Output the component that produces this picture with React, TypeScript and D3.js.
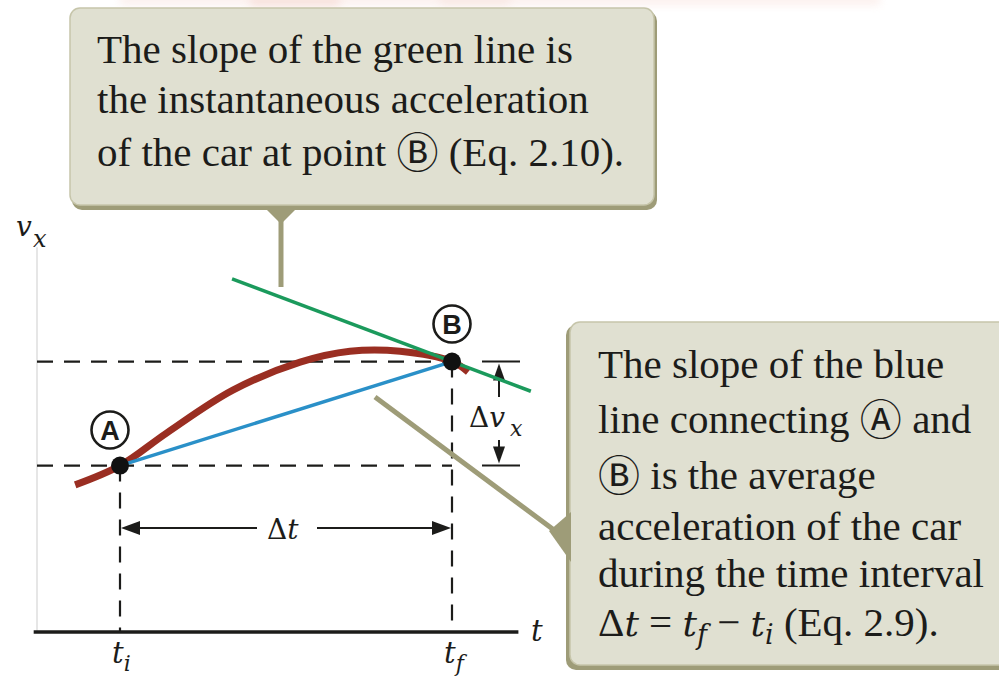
import React from "react";
import * as d3 from "d3";

// Velocity–time curve of the car (t in s, v_x in m/s)
const curveT = [0.92, 2, 3.13, 4.72, 6.34, 7.54, 8.75, 10, 10.39];
const curveV = [2.83, 3.2, 3.83, 4.65, 5.19, 5.4, 5.4, 5.2, 5.0];

// Marked points A and B
const pointNames = ["A", "B"];
const pointT = [2, 10];
const pointV = [3.2, 5.2];

// Tangent at B (instantaneous acceleration)
const tangentT = [4.7, 11.9];
const tangentSlope = -0.3;

// Axis extents and tick labels
const tAxis = [-0.08, 11.6];
const vAxis = [0, 7.4];
const tickSubs = ["i", "f"];

const W = 999;
const H = 681;

const x = d3.scaleLinear().domain([0, 11.6]).range([37, 518.4]);
const y = d3.scaleLinear().domain([0, 8]).range([632, 216]);

const serif = "'Liberation Serif', 'Times New Roman', serif";
const math = "'DejaVu Serif', 'Liberation Serif', serif";
const sans = "'Liberation Sans', Arial, sans-serif";
const circ = "'DejaVu Sans', 'Noto Sans CJK SC', sans-serif";
const ink = "#1c1c1a";
const boxFill = "#e0e0d1";
const boxEdge = "#c6c5aa";
const olive = "#9e9c78";

function arrowHead(tipX: number, tipY: number, dx: number, dy: number, len = 15, half = 6) {
  const bx = tipX - dx * len;
  const by = tipY - dy * len;
  const px = -dy * half;
  const py = dx * half;
  return `M${tipX},${tipY}L${bx + px},${by + py}L${bx - px},${by - py}Z`;
}

function Circled({ ch }: { ch: string }) {
  return (
    <tspan fontFamily={circ} fontSize={42} dy={2}>
      {ch}
    </tspan>
  );
}

export default function App() {
  const line = d3
    .line<number>()
    .x((_, i) => x(curveT[i]))
    .y((v) => y(v))
    .curve(d3.curveCatmullRom.alpha(0.5));

  const [tA, tB] = pointT;
  const [vA, vB] = pointV;
  const tanY = (t: number) => vB + tangentSlope * (t - tB);

  // Δv bracket
  const dvX = 499;
  const tickX0 = 482;
  const tickX1 = 520;
  const dtY = 528;

  const dash = "16 11";

  return (
    <svg
      width={W}
      height={H}
      viewBox={`0 0 ${W} ${H}`}
      style={{ position: "absolute", left: 0, top: 0, background: "#fff" }}
    >
      <defs>
        <filter id="soft" x="-20%" y="-200%" width="140%" height="500%">
          <feGaussianBlur stdDeviation="4" />
        </filter>
      </defs>

      {/* faint band along the top edge */}
      <g filter="url(#soft)" opacity={0.4}>
        <rect x={120} y={-6} width={760} height={11} fill="#f6d9d2" />
        <rect x={250} y={-6} width={90} height={13} fill="#eeb7aa" />
        <rect x={440} y={-6} width={70} height={12} fill="#f0c4b9" />
      </g>

      {/* vertical axis */}
      <line x1={x(0)} x2={x(0)} y1={y(vAxis[1])} y2={y(vAxis[0])} stroke="#e6e6e6" strokeWidth={2} />
      <text x={16} y={236} fontFamily={math} fontStyle="italic" fontSize={28} fill={ink}>
        v
      </text>
      <text x={33} y={247} fontFamily={math} fontStyle="italic" fontSize={24} fill={ink}>
        x
      </text>

      {/* dashed guides */}
      <g stroke={ink} strokeWidth={2.2} strokeDasharray={dash} fill="none">
        <line x1={x(0)} x2={x(tB)} y1={y(vB)} y2={y(vB)} />
        <line x1={x(0)} x2={x(tB)} y1={y(vA)} y2={y(vA)} />
        <line x1={x(tA)} x2={x(tA)} y1={y(vA)} y2={y(0)} />
        <line x1={x(tB)} x2={x(tB)} y1={y(vB)} y2={y(0)} />
      </g>

      {/* horizontal axis */}
      <line x1={x(tAxis[0])} x2={x(tAxis[1])} y1={y(0)} y2={y(0)} stroke={ink} strokeWidth={3.5} />
      <text x={531} y={641} fontFamily={math} fontStyle="italic" fontSize={29} fill={ink}>
        t
      </text>
      {pointT.map((t, i) => (
        <text key={i} x={x(t) - 8} y={663} fontFamily={math} fontStyle="italic" fontSize={29} fill={ink}>
          t
          <tspan fontSize={22} dy={8}>
            {tickSubs[i]}
          </tspan>
        </text>
      ))}

      {/* Δt bracket */}
      <g stroke={ink} strokeWidth={1.8}>
        <line x1={x(tA) + 10} x2={257} y1={dtY} y2={dtY} />
        <line x1={317} x2={x(tB) - 10} y1={dtY} y2={dtY} />
      </g>
      <path d={arrowHead(x(tA) + 1, dtY, -1, 0, 19, 7)} fill={ink} />
      <path d={arrowHead(x(tB) - 1, dtY, 1, 0, 19, 7)} fill={ink} />
      <text x={267} y={539} fontFamily={math} fontSize={28} fill={ink}>
        Δ<tspan fontStyle="italic">t</tspan>
      </text>

      {/* Δv bracket */}
      <g stroke={ink} strokeWidth={2}>
        <line x1={tickX0} x2={tickX1} y1={y(vB)} y2={y(vB)} />
        <line x1={tickX0} x2={tickX1} y1={y(vA)} y2={y(vA)} />
        <line x1={dvX} x2={dvX} y1={y(vB) + 10} y2={397} />
        <line x1={dvX} x2={dvX} y1={440} y2={y(vA) - 10} />
      </g>
      <path d={arrowHead(dvX, y(vB) + 2, 0, -1, 17, 6)} fill={ink} />
      <path d={arrowHead(dvX, y(vA) - 2, 0, 1, 17, 6)} fill={ink} />
      <text x={469} y={427} fontFamily={math} fontSize={28} fill={ink}>
        Δ<tspan fontStyle="italic">v</tspan>
        <tspan fontStyle="italic" fontSize={22} dx={5} dy={9}>
          x
        </tspan>
      </text>

      {/* callout pointer lines */}
      <line x1={281} x2={281} y1={215} y2={287} stroke={olive} strokeWidth={5} />
      <line x1={375} y1={397} x2={558} y2={533} stroke={olive} strokeWidth={5} />

      {/* velocity curve */}
      <path d={line(curveV) ?? ""} fill="none" stroke="#9a2e22" strokeWidth={7} strokeLinecap="butt" />

      {/* average-acceleration chord */}
      <line x1={x(tA)} y1={y(vA)} x2={x(tB)} y2={y(vB)} stroke="#2a90c8" strokeWidth={3.5} />

      {/* tangent at B */}
      <line
        x1={x(tangentT[0])}
        y1={y(tanY(tangentT[0]))}
        x2={x(tangentT[1])}
        y2={y(tanY(tangentT[1]))}
        stroke="#1b9a5c"
        strokeWidth={3.5}
      />

      {/* points */}
      {pointT.map((t, i) => (
        <circle key={pointNames[i]} cx={x(t)} cy={y(pointV[i])} r={9} fill="#111" />
      ))}
      {pointT.map((t, i) => {
        const cx = i === 0 ? x(t) - 10 : x(t);
        const cy = i === 0 ? 430 : 324;
        return (
          <g key={"lab" + i}>
            <circle cx={cx} cy={cy} r={18.5} fill="#fff" stroke={ink} strokeWidth={2.6} />
            <text x={cx} y={cy + 9.5} textAnchor="middle" fontFamily={sans} fontWeight={700} fontSize={27} fill={ink}>
              {pointNames[i]}
            </text>
          </g>
        );
      })}

      {/* top callout */}
      <rect x={72} y={11} width={585} height={199} rx={10} fill={olive} />
      <rect x={70} y={8} width={584} height={197} rx={10} fill={boxFill} stroke={boxEdge} strokeWidth={1.5} />
      <path d="M265,208L297,208L281,224Z" fill={olive} />
      <g fontFamily={serif} fontSize={41} fill={ink}>
        <text x={97} y={63}>The slope of the green line is</text>
        <text x={97} y={113}>the instantaneous acceleration</text>
        <text x={97} y={166}>
          of the car at point <Circled ch="Ⓑ" />
          <tspan dy={-2}> (Eq. 2.10).</tspan>
        </text>
      </g>

      {/* right callout */}
      <rect x={566} y={325} width={445} height={345} rx={10} fill={olive} />
      <rect x={570} y={322} width={440} height={343} rx={10} fill={boxFill} stroke={boxEdge} strokeWidth={1.5} />
      <path d="M571,512L571,562L549,531Z" fill={olive} />
      <g fontFamily={serif} fontSize={41} fill={ink}>
        <text x={598} y={378}>The slope of the blue</text>
        <text x={598} y={433}>
          line connecting <Circled ch="Ⓐ" />
          <tspan dy={-2}> and</tspan>
        </text>
        <text x={598} y={489}>
          <Circled ch="Ⓑ" />
          <tspan dy={-2}> is the average</tspan>
        </text>
        <text x={598} y={540}>acceleration of the car</text>
        <text x={598} y={587}>during the time interval</text>
        <text x={598} y={636}>
          Δ<tspan fontFamily={math} fontStyle="italic" fontSize={36}>t</tspan> ={" "}
          <tspan fontFamily={math} fontStyle="italic" fontSize={36}>t</tspan>
          <tspan fontFamily={math} fontStyle="italic" fontSize={27} dy={8}>
            f
          </tspan>
          <tspan dy={-8}> − </tspan>
          <tspan fontFamily={math} fontStyle="italic" fontSize={36}>t</tspan>
          <tspan fontFamily={math} fontStyle="italic" fontSize={27} dy={8}>
            i
          </tspan>
          <tspan dy={-8}> (Eq. 2.9).</tspan>
        </text>
      </g>
    </svg>
  );
}
